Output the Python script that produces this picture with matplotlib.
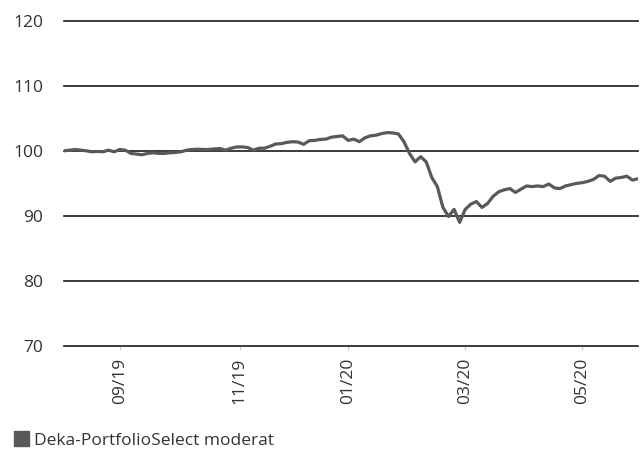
import numpy as np
import pandas as pd
import matplotlib
matplotlib.use("Agg")
import matplotlib.pyplot as plt
from matplotlib.patches import Patch

plt.rcParams['font.family'] = ['Open Sans', 'DejaVu Sans']

# trading days (German fund valuation calendar)
start = "2019-08-05"
end = "2020-06-03"
feiertage = ["2019-10-03", "2019-12-24", "2019-12-25", "2019-12-26", "2019-12-31",
             "2020-01-01", "2020-04-10", "2020-04-13", "2020-05-01", "2020-05-21",
             "2020-06-01"]

# indexed value, read every second trading day
wert = [100.0, 100.1, 100.2, 100.1, 100.0, 99.85, 99.9, 99.85, 100.1, 99.85,
        100.2, 100.1, 99.6, 99.5, 99.4, 99.6, 99.7, 99.6, 99.6, 99.7,
        99.75, 99.85, 100.1, 100.2, 100.25, 100.2, 100.2, 100.3, 100.35, 100.1,
        100.4, 100.6, 100.6, 100.5, 100.1, 100.4, 100.4, 100.7, 101.05, 101.1,
        101.3, 101.4, 101.35, 101.0, 101.55, 101.6, 101.75, 101.8, 102.1, 102.2,
        102.3, 101.6, 101.8, 101.4, 102.0, 102.3, 102.4, 102.65, 102.8, 102.75,
        102.6, 101.4, 99.6, 98.3, 99.1, 98.3, 95.9, 94.5, 91.3, 89.9,
        91.0, 89.0, 91.0, 91.8, 92.2, 91.3, 91.9, 93.0, 93.7, 94.0,
        94.2, 93.6, 94.1, 94.6, 94.5, 94.6, 94.5, 94.9, 94.3, 94.2,
        94.6, 94.8, 95.0, 95.1, 95.3, 95.6, 96.2, 96.1, 95.3, 95.8,
        95.9, 96.1, 95.5, 95.7]

label = "Deka-PortfolioSelect moderat"
tick_monate = [9, 11, 1, 3, 5]
y_ticks = [70, 80, 90, 100, 110, 120]

days = pd.bdate_range(start, end)
days = days[~days.isin(pd.to_datetime(feiertage))]
idx = np.arange(len(days))
pos = idx[::2][:len(wert)]

# first trading day of each labelled month
month_start = ~pd.Series(days.month).duplicated().values
xt = [i for i in idx if month_start[i] and days[i].month in tick_monate]
xl = [days[i].strftime("%m/%y") for i in xt]

text_col = "#333333"
line_col = "#595959"

fig = plt.figure(figsize=(6.43, 4.59), dpi=100)
ax = fig.add_axes([0.0995, 0.2462, 0.8927, 0.7087])

ax.plot(pos, wert, color=line_col, lw=2.3, zorder=3, solid_joinstyle="round")

ax.set_xlim(0, len(days) - 1)
ax.set_ylim(70, 120)
ax.set_yticks(y_ticks)
ax.set_xticks(xt)
ax.set_xticklabels(xl, rotation=90, va="top")

for s in ax.spines.values():
    s.set_visible(False)
ax.yaxis.grid(True, color="#1a1a1a", lw=1.2)
for gl in ax.get_ygridlines():
    gl.set_clip_on(False)
ax.set_axisbelow(True)

ax.tick_params(axis="y", length=0, pad=15, labelsize=12.5, labelcolor=text_col)
ax.tick_params(axis="x", length=3, width=0.8, color="#cccccc", pad=5.5,
               labelsize=12.5, labelcolor=text_col)

fig.legend(handles=[Patch(color=line_col, label=label)], loc="lower left",
           bbox_to_anchor=(0.005, 0.0), frameon=False, fontsize=12.5,
           handlelength=0.9, handleheight=0.9, handletextpad=0.3,
           labelcolor=text_col, borderaxespad=0.2)

fig.savefig("out.png", dpi=100)
